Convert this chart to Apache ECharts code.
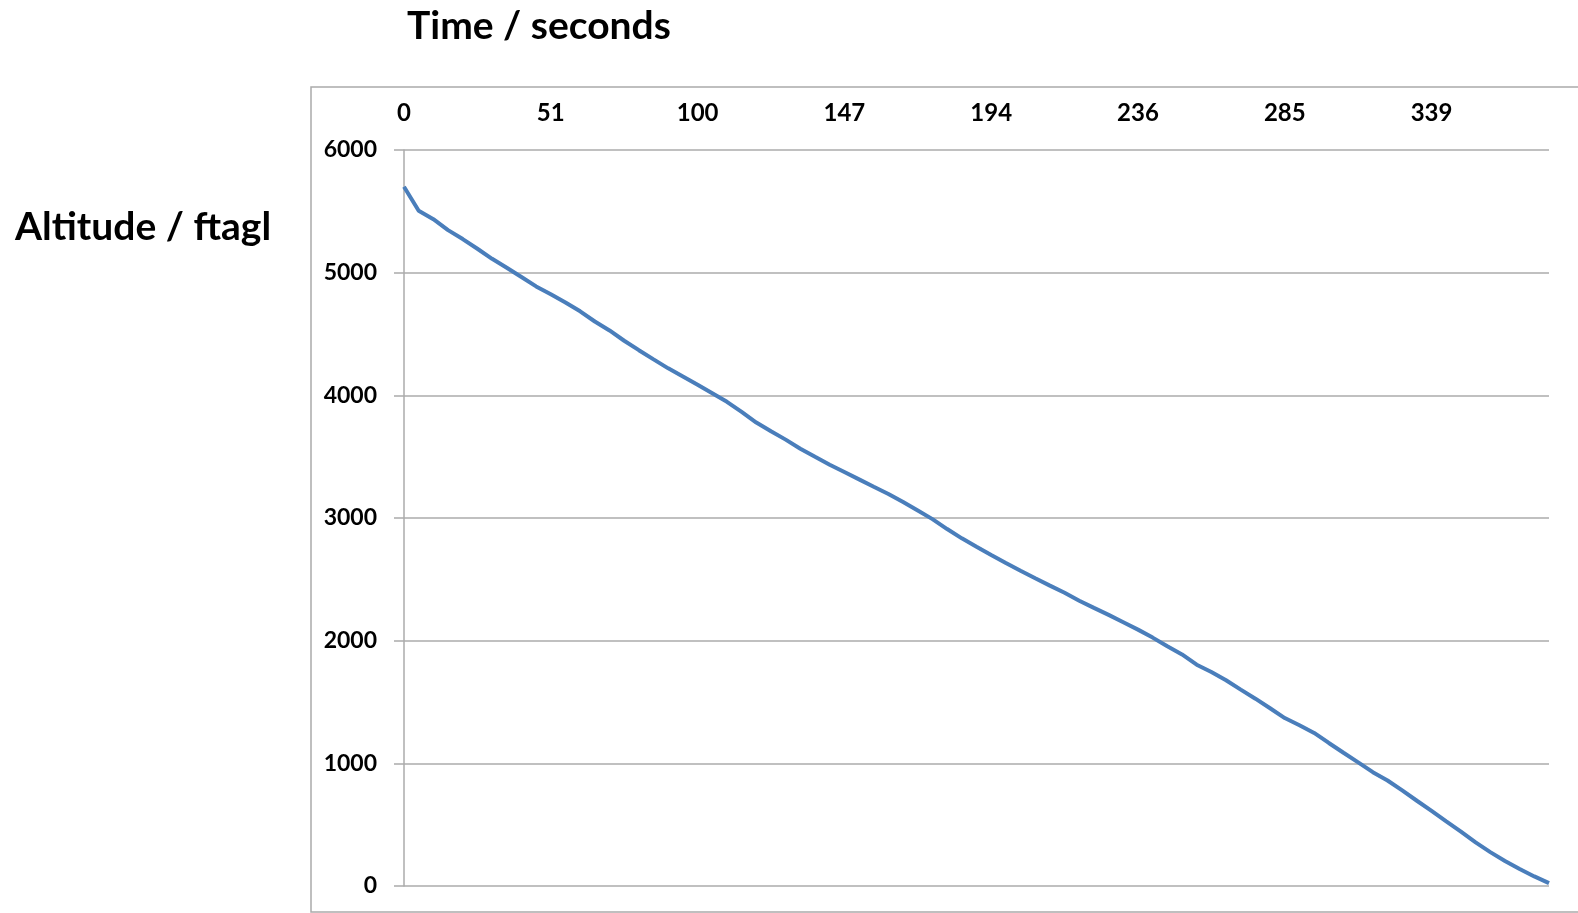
<!DOCTYPE html>
<html>
<head>
<meta charset="utf-8">
<script src="https://cdn.jsdelivr.net/npm/echarts@6/dist/echarts.min.js"></script>
<style>
  html, body { margin: 0; padding: 0; background: #fff; }
  #chart { width: 1578px; height: 913px; }
</style>
</head>
<body>
<div id="chart"></div>
<script>
// time labels shown on the top axis, one every labelEvery samples
var timeLabels = [0, 51, 100, 147, 194, 236, 285, 339]
var labelEvery = 10

// altitude (ft agl) at each sample
var altitude = [
  5700, 5505, 5436, 5347, 5274, 5195, 5113, 5040, 4965, 4888,
  4824, 4757, 4685, 4602, 4529, 4445, 4368, 4293, 4220, 4154,
  4087, 4017, 3947, 3865, 3778, 3707, 3639, 3565, 3499, 3434,
  3375, 3315, 3255, 3196, 3130, 3061, 2991, 2910, 2834, 2766,
  2699, 2634, 2570, 2509, 2449, 2390, 2326, 2267, 2210, 2150,
  2090, 2025, 1954, 1888, 1804, 1744, 1677, 1601, 1527, 1449,
  1369, 1311, 1248, 1166, 1086, 1008, 928, 860, 779, 695,
  612, 527, 443, 355, 276, 204, 138, 78, 23
]

var yTicks = { min: 0, max: 6000, interval: 1000 }

var chart = echarts.init(document.getElementById('chart'))
var gray = '#ababab'
var font = 'Lato, "Open Sans", sans-serif'

var option = {
  animation: false,
  graphic: [
    {
      type: 'rect',
      shape: { x: 311, y: 87, width: 1300, height: 825 },
      style: { fill: 'none', stroke: gray, lineWidth: 1.5 }
    },
    {
      type: 'text',
      left: 407,
      top: 7,
      style: { text: 'Time / seconds', font: 'bold 39px ' + font, fill: '#000' }
    },
    {
      type: 'text',
      left: 15,
      top: 208,
      style: { text: 'Altitude / ftagl', font: 'bold 39px ' + font, fill: '#000' }
    }
  ],
  grid: {
    left: 404,
    right: 29,
    top: 150,
    bottom: 27
  },
  xAxis: {
    type: 'category',
    position: 'top',
    boundaryGap: false,
    data: altitude.map(function (v, i) { return i }),
    axisLine: { show: false },
    axisTick: { show: false },
    splitLine: { show: false },
    axisLabel: {
      interval: labelEvery - 1,
      margin: 25,
      fontSize: 24,
      fontWeight: 'bold',
      fontFamily: font,
      color: '#000',
      formatter: function (v, i) {
        return i % labelEvery === 0 ? String(timeLabels[i / labelEvery]) : ''
      }
    }
  },
  yAxis: {
    type: 'value',
    min: yTicks.min,
    max: yTicks.max,
    interval: yTicks.interval,
    axisLine: { show: true, lineStyle: { color: gray, width: 1.5 } },
    axisTick: { show: true, length: 10, lineStyle: { color: gray, width: 1.5 } },
    splitLine: { show: true, lineStyle: { color: gray, width: 1.5 } },
    axisLabel: {
      margin: 27,
      fontSize: 23,
      fontWeight: 'bold',
      fontFamily: font,
      color: '#000',
      formatter: function (v) { return String(v) }
    }
  },
  series: [
    {
      type: 'line',
      data: altitude,
      showSymbol: false,
      smooth: false,
      lineStyle: { color: '#4a7ebb', width: 4 }
    }
  ]
}

chart.setOption(option)
</script>
</body>
</html>
